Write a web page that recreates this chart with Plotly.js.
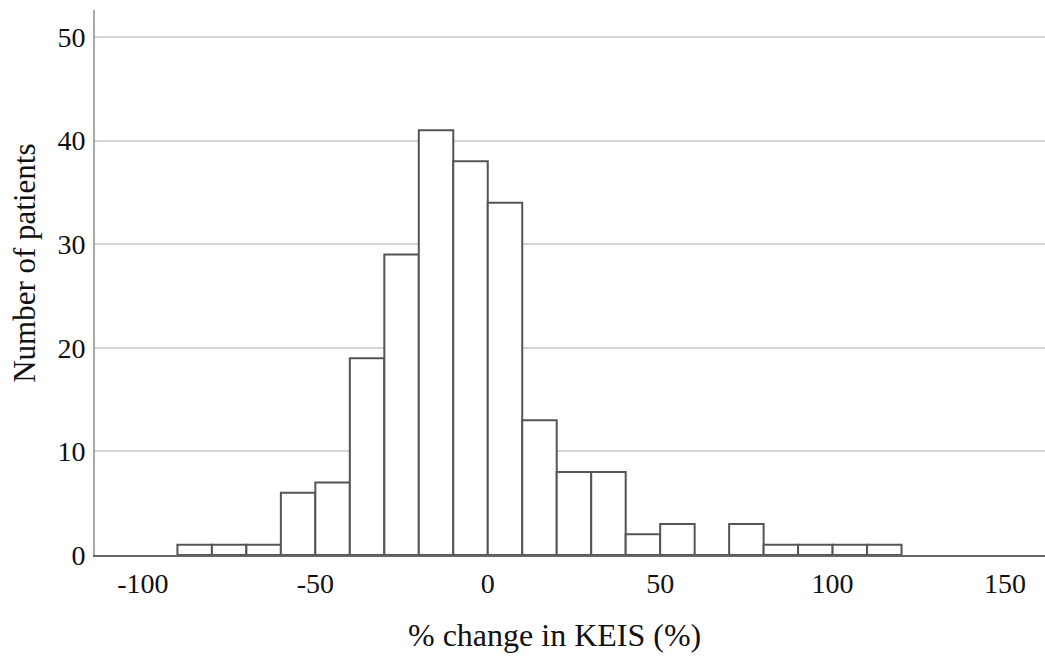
<!DOCTYPE html>
<html>
<head>
<meta charset="utf-8">
<script src="https://cdn.plot.ly/plotly-3.0.1.min.js"></script>
<style>html,body{margin:0;padding:0;background:#fff;}#chart{width:1045px;height:659px;}</style>
</head>
<body>
<div id="chart"></div>
<script>
// Histogram bins (% change in KEIS), width 10
const binCenters = [-85, -75, -65, -55, -45, -35, -25, -15, -5, 5, 15, 25, 35, 45, 55, 65, 75, 85, 95, 105, 115];
const counts     = [1, 1, 1, 6, 7, 19, 29, 41, 38, 34, 13, 8, 8, 2, 3, 0, 3, 1, 1, 1, 1];
const xTicks = [-100, -50, 0, 50, 100, 150];
const yTicks = [0, 10, 20, 30, 40, 50];
const xTitle = '% change in KEIS (%)';
const yTitle = 'Number of patients';

const fam = '"Liberation Serif", "Times New Roman", serif';
const tickFont = {family: fam, size: 28, color: '#111'};
const titleFont = {family: fam, size: 32, color: '#111'};

Plotly.newPlot('chart', [{
  type: 'bar',
  x: binCenters,
  y: counts,
  width: binCenters.map(() => 10),
  marker: {color: '#ffffff', line: {color: '#555555', width: 2}},
  hoverinfo: 'x+y'
}], {
  width: 1045, height: 659,
  margin: {l: 95, r: 0, t: 10, b: 104},
  paper_bgcolor: '#fff', plot_bgcolor: '#fff',
  font: tickFont,
  showlegend: false,
  bargap: 0,
  xaxis: {
    range: [-113.9, 161.6],
    tickvals: xTicks,
    ticktext: xTicks.map(String),
    showgrid: false, zeroline: false,
    showline: true, linecolor: '#666', linewidth: 2,
    ticks: '', ticklabelstandoff: 2,
    tickfont: tickFont
  },
  yaxis: {
    range: [0, 52.6],
    tickvals: yTicks,
    ticktext: yTicks.map(String),
    showgrid: true, gridcolor: '#d4d4d4', gridwidth: 2,
    zeroline: false,
    showline: true, linecolor: '#aaaaaa', linewidth: 2,
    ticks: '', ticklabelstandoff: 2,
    tickfont: tickFont
  },
  annotations: [
    {text: xTitle, xref: 'paper', yref: 'paper', x: 0.484, y: -0.147,
     xanchor: 'center', yanchor: 'middle', showarrow: false, font: titleFont},
    {text: yTitle, xref: 'paper', yref: 'paper', x: -0.0737, y: 0.536, textangle: -90,
     xanchor: 'center', yanchor: 'middle', showarrow: false, font: {family: fam, size: 31, color: '#111'}}
  ]
}, {displayModeBar: false, staticPlot: true});
</script>
</body>
</html>
